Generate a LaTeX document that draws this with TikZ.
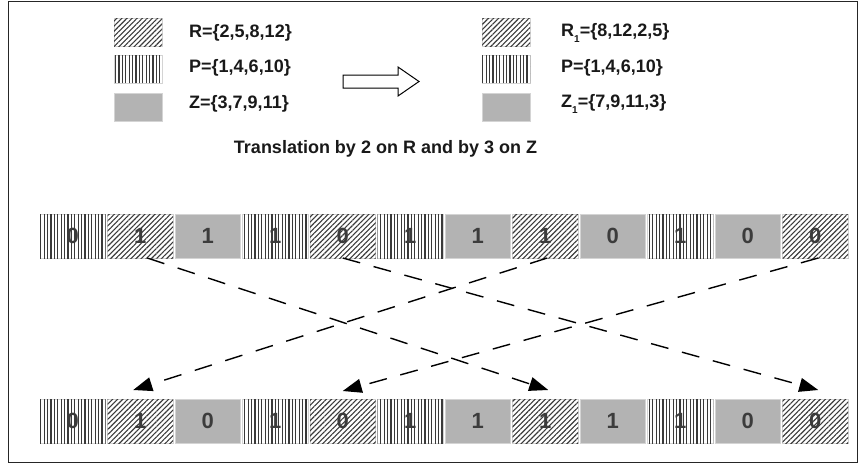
\documentclass[tikz,border=0pt]{standalone}
\usepackage{fontspec}
\setmainfont{Liberation Sans}
\usetikzlibrary{patterns.meta,arrows.meta}
\definecolor{zgray}{HTML}{B3B3B3}
\definecolor{digitc}{HTML}{3C3C3C}
\definecolor{hatchc}{HTML}{3A3A3A}
\definecolor{edgec}{HTML}{D4D4D4}
\tikzset{
  cellbase/.style={minimum width=65.5pt, minimum height=44pt, inner sep=0pt, outer sep=0pt,
    draw=edgec, line width=0.6pt, text=digitc, font=\fontsize{22}{24}\selectfont\bfseries},
  cellp/.style={cellbase},
  cellr/.style={cellbase},
  cellz/.style={cellbase, fill=zgray},
  patp/.style={pattern={Lines[angle=90,distance=3.4pt,line width=1.2pt]}, pattern color=hatchc},
  patr/.style={pattern={Lines[angle=45,distance=3.6pt,line width=1.1pt]}, pattern color=hatchc},
  patz/.style={},
  swatch/.style={minimum width=48pt, minimum height=28pt, inner sep=0pt, outer sep=0pt, draw=edgec, line width=0.6pt},
  legtext/.style={anchor=west, inner sep=0pt, font=\fontsize{18}{20}\selectfont\bfseries, text=black!90},
  dashline/.style={draw=black, line width=1.4pt, dash pattern=on 18pt off 14pt,
    -{Triangle[length=19pt,width=14pt]}},
}
\begin{document}
\begin{tikzpicture}[x=1pt,y=-1pt]
\useasboundingbox (0,0) rectangle (865,466);
% frame
\draw[line width=1.2pt, black!85] (8.5,1.5) rectangle (857.5,462.5);

% legend left
\node[swatch] (lr) at (138,32) {};
\node[swatch] (lp) at (138,69) {};
\node[swatch, fill=zgray] (lz) at (138,107) {};
\path[patr] (lr.south west) rectangle (lr.north east);
\path[patp] (lp.south west) rectangle (lp.north east);
\node[legtext] (tr) at (189,33) {R=\{2,5,8,12\}};
\node[legtext] (tp) at (189,68) {P=\{1,4,6,10\}};
\node[legtext] (tz) at (189,104) {Z=\{3,7,9,11\}};

% legend right
\node[swatch] (rr) at (506,32) {};
\node[swatch] (rp) at (506,69) {};
\node[swatch, fill=zgray] (rz) at (506,107) {};
\path[patr] (rr.south west) rectangle (rr.north east);
\path[patp] (rp.south west) rectangle (rp.north east);
\node[legtext] (ur) at (561,33) {R\raisebox{-6pt}{\fontsize{10}{10}\selectfont 1}=\{8,12,2,5\}};
\node[legtext] (up) at (561,68) {P=\{1,4,6,10\}};
\node[legtext] (uz) at (561,104) {Z\raisebox{-6pt}{\fontsize{10}{10}\selectfont 1}=\{7,9,11,3\}};

% block arrow
\draw[line width=1pt, fill=white] (343,75) -- (398,75) -- (398,67) -- (419,81.5) -- (398,96) -- (398,88) -- (343,88) -- cycle;

% title
\node[font=\fontsize{18}{20}\selectfont\bfseries, inner sep=0pt, text=black!90] (title) at (385.5,149) {Translation by 2 on R and by 3 on Z};

% top row
\foreach \i/\typ/\v in {1/p/0,2/r/1,3/z/1,4/p/1,5/r/0,6/p/1,7/z/1,8/r/1,9/z/0,10/p/1,11/z/0,12/r/0}{
  \node[cell\typ] (t\i) at ({39+(\i-0.5)*67.5},236) {\v};
  \path[pat\typ] (t\i.south west) rectangle (t\i.north east);
}
% bottom row
\foreach \i/\typ/\v in {1/p/0,2/r/1,3/z/0,4/p/1,5/r/0,6/p/1,7/z/1,8/r/1,9/z/1,10/p/1,11/z/0,12/r/0}{
  \node[cell\typ] (b\i) at ({39+(\i-0.5)*67.5},421) {\v};
  \path[pat\typ] (b\i.south west) rectangle (b\i.north east);
}

% connectors
\draw[dashline] ([xshift=7pt]t2.south) -- ([xshift=3pt,yshift=9pt]b8.north);
\draw[dashline] ([xshift=0pt]t5.south) -- ([xshift=3pt,yshift=9pt]b12.north);
\draw[dashline] ([xshift=2pt]t8.south) -- ([xshift=-7pt,yshift=9pt]b2.north);
\draw[dashline] ([xshift=3pt]t12.south) -- ([xshift=0pt,yshift=8pt]b5.north);
\end{tikzpicture}
\end{document}
